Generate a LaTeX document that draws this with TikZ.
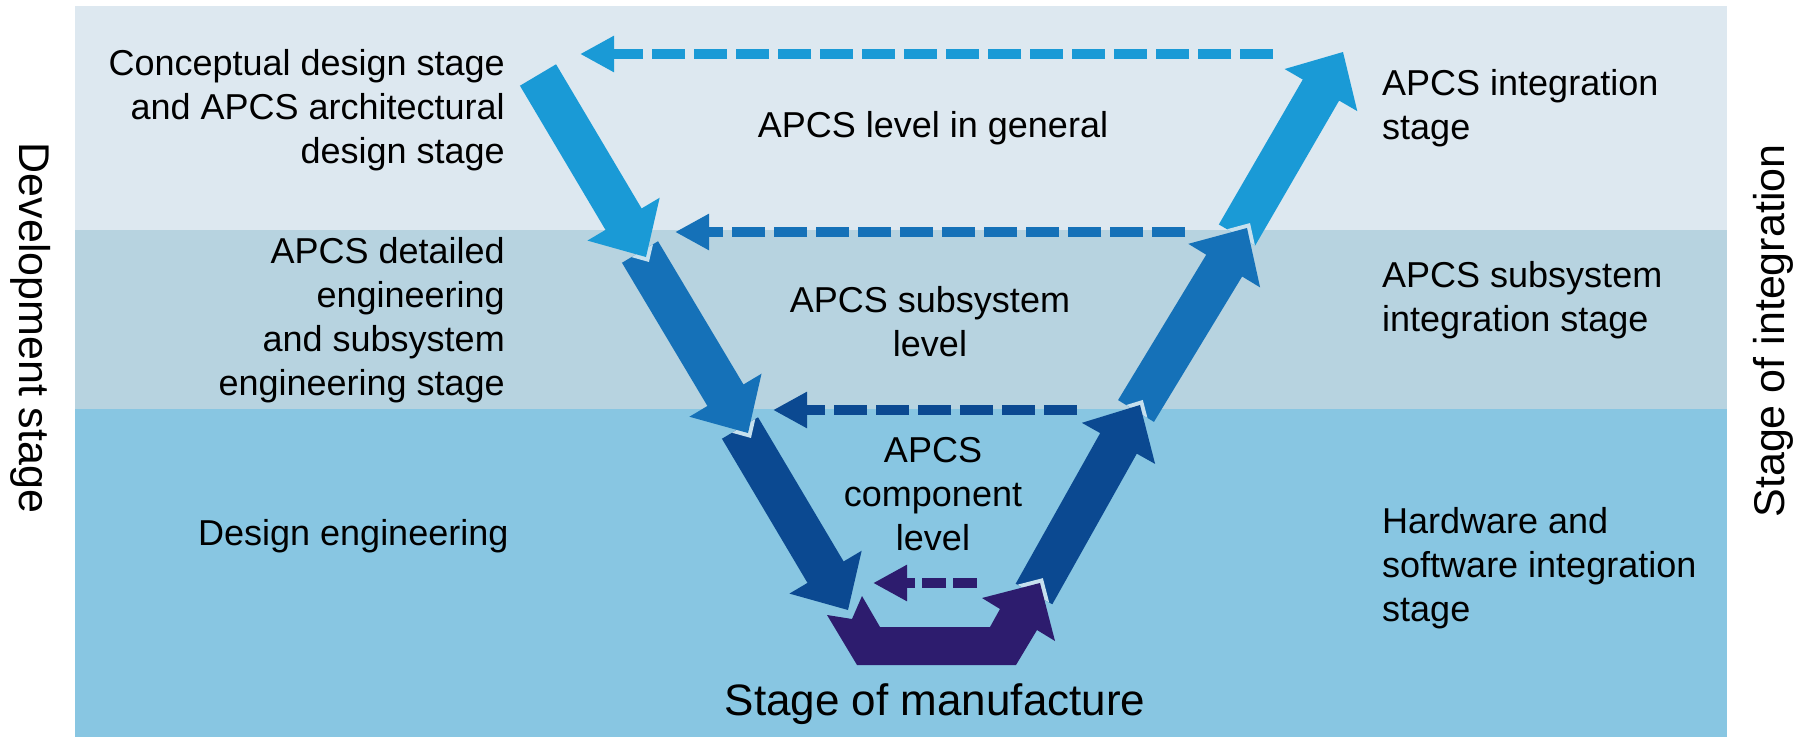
\documentclass[tikz,border=0pt]{standalone}
\usepackage{fontspec}
\setmainfont{Liberation Sans}
\usetikzlibrary{calc,arrows.meta}

\definecolor{bandtop}{RGB}{221,232,240}
\definecolor{bandmid}{RGB}{183,211,224}
\definecolor{bandlow}{RGB}{136,198,226}
\definecolor{arrlight}{RGB}{26,154,214}
\definecolor{arrmedium}{RGB}{21,113,184}
\definecolor{arrdark}{RGB}{11,73,145}
\definecolor{arrpurple}{RGB}{45,28,110}
\definecolor{arredge}{RGB}{198,224,238}

% block arrow dimensions
\newcommand{\bkshaft}{21pt}
\newcommand{\bkhead}{42pt}
\newcommand{\bklen}{44pt}

% head base of the block arrow from (#1-t) to (#1-p)
\newcommand{\arrowbase}[1]{\coordinate (#1-h) at ($(#1-p)!\bklen!(#1-t)$);}

% outline of the block arrow #1
\newcommand{\arrowpath}[1]{%
  ($(#1-t)!\bkshaft!90:(#1-p)$) -- ($(#1-h)!\bkshaft!90:(#1-p)$) --
  ($(#1-h)!\bkhead!90:(#1-p)$) -- (#1-p) --
  ($(#1-h)!\bkhead!-90:(#1-p)$) -- ($(#1-h)!\bkshaft!-90:(#1-p)$) --
  ($(#1-t)!\bkshaft!-90:(#1-p)$) -- cycle}

% outline of the manufacturing link
\newcommand{\linkpath}{%
  (827,615) -- (852,619) -- (862,596) -- (880,627) -- (990,627) --
  (1000,609) -- (982,598) -- (1040,583) -- (1055,641) -- (1037,630) --
  (1016,665) -- (857,665) -- cycle}

\tikzset{
  seam/.style={draw=arredge, line width=8pt, line join=miter},
  backlink/.style={line width=10pt, dash pattern=on 33pt off 9pt,
    -{Triangle[length=34pt,width=34pt]}},
  lbl/.style={font=\fontsize{36}{44}\selectfont, inner sep=0pt},
  sidelbl/.style={font=\fontsize{43}{50}\selectfont, inner sep=0pt},
}

\begin{document}
\begin{tikzpicture}[x=1pt,y=-1pt]
\useasboundingbox (0,0) rectangle (1805,742);
\fill[white] (0,0) rectangle (1805,742);

% level bands
\fill[bandtop] (75,6) rectangle (1727,230);
\fill[bandmid] (75,230) rectangle (1727,409);
\fill[bandlow] (75,409) rectangle (1727,737);

% end points of the block arrows
\coordinate (ld-t) at (538,75);   \coordinate (ld-p) at (646,257);
\coordinate (md-t) at (640,252);  \coordinate (md-p) at (748,433);
\coordinate (dd-t) at (740,428);  \coordinate (dd-p) at (848,610);
\coordinate (du-t) at (1034,594); \coordinate (du-p) at (1140,405);
\coordinate (mu-t) at (1136,411); \coordinate (mu-p) at (1247,228);
\coordinate (lu-t) at (1237,235); \coordinate (lu-p) at (1343,52);
\arrowbase{ld}\arrowbase{md}\arrowbase{dd}
\arrowbase{du}\arrowbase{mu}\arrowbase{lu}

% rising branch: each head sits over the following tail with a light seam
\fill[arrlight] \arrowpath{lu};
\begin{scope}\clip \arrowpath{lu}; \draw[seam] \arrowpath{mu}; \end{scope}
\fill[arrmedium] \arrowpath{mu};
\begin{scope}\clip \arrowpath{mu}; \draw[seam] \arrowpath{du}; \end{scope}
\fill[arrdark] \arrowpath{du};

% manufacturing link at the bottom
\begin{scope}\clip \arrowpath{du}; \draw[seam] \linkpath; \end{scope}
\fill[arrpurple] \linkpath;

% descending branch
\begin{scope}\clip \linkpath; \draw[seam] \arrowpath{dd}; \end{scope}
\fill[arrdark] \arrowpath{dd};
\begin{scope}\clip \arrowpath{dd}; \draw[seam] \arrowpath{md}; \end{scope}
\fill[arrmedium] \arrowpath{md};
\begin{scope}\clip \arrowpath{md}; \draw[seam] \arrowpath{ld}; \end{scope}
\fill[arrlight] \arrowpath{ld};

% feedback links between the branches
\coordinate (fb1-s) at (1273,54);  \coordinate (fb1-e) at (580,54);
\coordinate (fb2-s) at (1185,232); \coordinate (fb2-e) at (675,232);
\coordinate (fb3-s) at (1077,410); \coordinate (fb3-e) at (773,410);
\coordinate (fb4-s) at (977,583);  \coordinate (fb4-e) at (873,583);
\draw[backlink, arrlight] (fb1-s) -- (fb1-e);
\draw[backlink, arrmedium] (fb2-s) -- (fb2-e);
\draw[backlink, arrdark] (fb3-s) -- (fb3-e);
\draw[backlink, arrpurple, dash pattern=on 24pt off 7pt] (fb4-s) -- (fb4-e);

% development stages
\node[lbl, anchor=north east, align=right] (dev1) at (505,49)
  {Conceptual design stage\\and APCS architectural\\design stage};
\node[lbl, anchor=north east, align=right] (dev2) at (505,237)
  {APCS detailed\\engineering\\and subsystem\\engineering stage};
\node[lbl, anchor=base west] (dev3) at (198,545) {Design engineering};

% levels
\node[lbl, anchor=base] (lev1) at (933,137) {APCS level in general};
\node[lbl, anchor=north, align=center] (lev2) at (930,286)
  {APCS subsystem\\level};
\node[lbl, anchor=north, align=center] (lev3) at (933,437)
  {APCS\\component\\level};
\node[font=\fontsize{44}{52}\selectfont, inner sep=0pt, anchor=base] (manu)
  at (935,715) {Stage of manufacture};

% integration stages
\node[lbl, anchor=north west, align=left] (int1) at (1382,69)
  {APCS integration\\stage};
\node[lbl, anchor=north west, align=left] (int2) at (1382,261)
  {APCS subsystem\\integration stage};
\node[lbl, anchor=north west, align=left] (int3) at (1382,507)
  {Hardware and\\software integration\\stage};

% side captions
\node[sidelbl, rotate=-90] (devside) at (31,328) {Development stage};
\node[sidelbl, rotate=90] (intside) at (1773,331) {Stage of integration};
\end{tikzpicture}
\end{document}
